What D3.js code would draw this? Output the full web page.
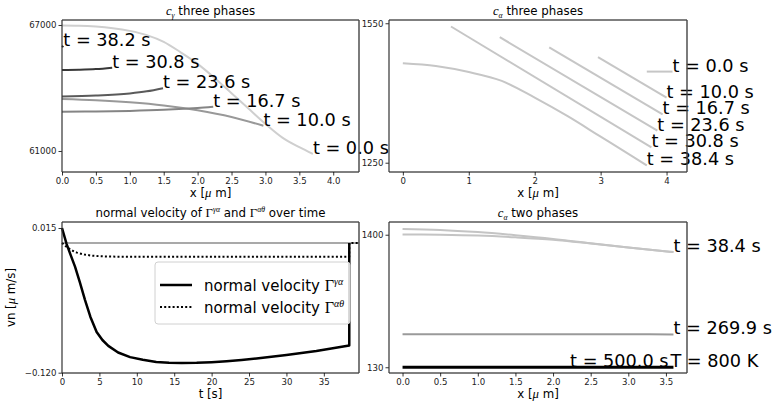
<!DOCTYPE html>
<html><head><meta charset="utf-8">
<script src="https://cdn.jsdelivr.net/npm/d3@7"></script>
<style>body{margin:0;background:#fff}svg{font-family:"DejaVu Sans",sans-serif;display:block}</style>
</head><body><svg id="c" width="775" height="401"></svg>
<script>
// ---------- DATA ----------
// Panel 1: c_gamma three phases
const cgTimes = ["0.0", "10.0", "16.7", "23.6", "30.8", "38.2"];
const cgX = [
  [0, 0.25, 0.5, 0.75, 1.0, 1.25, 1.5, 1.75, 2.0, 2.25, 2.5, 2.75, 3.0, 3.25, 3.5, 3.7],
  [0, 0.5, 1.0, 1.5, 2.0, 2.5, 2.97],
  [0, 0.5, 1.0, 1.5, 1.8, 2.0, 2.23],
  [0, 0.5, 1.0, 1.25, 1.49],
  [0, 0.25, 0.5, 0.74],
  [0, 0.02]
];
const cgC = [
  [66980, 66970, 66930, 66850, 66720, 66520, 66200, 65700, 65150, 64480, 63750, 63020, 62290, 61640, 61180, 60860],
  [63480, 63420, 63320, 63170, 62940, 62620, 62200],
  [62870, 62885, 62910, 62960, 63010, 63050, 63110],
  [63600, 63640, 63740, 63840, 63990],
  [64860, 64870, 64900, 64970],
  [65950, 66000]
];
const cgXTicks = [0, 0.5, 1.0, 1.5, 2.0, 2.5, 3.0, 3.5, 4.0];
const cgYTicks = [61000, 67000];

// Panel 2: c_alpha three phases
const ca3Times = ["0.0", "10.0", "16.7", "23.6", "30.8", "38.4"];
const ca3X = [
  [3.7, 4.09],
  [2.96, 4.0],
  [2.22, 3.94],
  [1.47, 3.86],
  [0.73, 3.77],
  [0, 0.5, 1.0, 1.5, 2.0, 2.5, 3.0, 3.5, 3.7]
];
const ca3C = [
  [1446, 1446],
  [1477, 1390],
  [1498, 1354],
  [1520, 1319],
  [1543, 1283],
  [1464, 1458, 1445, 1426, 1390, 1350, 1306, 1262, 1244]
];
const ca3XTicks = [0, 1, 2, 3, 4];
const ca3YTicks = [1250, 1550];

// Panel 3: normal velocity over time
const vnGaT = [0, 0.62, 1.2, 1.74, 2.4, 3.07, 3.8, 4.63, 5.4, 6.19, 7.5, 9.1, 10.8, 12.6, 14.3, 16, 18, 20, 22, 24, 26, 28, 30, 32, 34, 36, 38.4, 38.4];
const vnGaV = [0.015, 0, -0.011, -0.021, -0.036, -0.052, -0.068, -0.082, -0.0895, -0.095, -0.1012, -0.1055, -0.108, -0.110, -0.1107, -0.111,
  -0.1108, -0.1102, -0.1093, -0.1082, -0.1068, -0.1052, -0.1035, -0.1017, -0.0998, -0.0975, -0.0946, 0.001];
const vnAtT = [0, 0.5, 1, 1.5, 2, 3, 4, 5, 6, 8, 10, 38.4, 38.4, 39.7];
const vnAtV = [0.001, -0.002, -0.0045, -0.0065, -0.008, -0.0098, -0.0108, -0.0113, -0.0116, -0.0118, -0.0119, -0.0119, 0.001, 0.001];
const vnRef = 0.001;
const vnXTicks = [0, 5, 10, 15, 20, 25, 30, 35];
const vnYTicks = [-0.120, 0.015];

// Panel 4: c_alpha two phases
const ca2Times = ["38.4", "38.4", "269.9", "500.0"];
const ca2X = [
  [0, 0.5, 1, 1.5, 2, 2.5, 3, 3.6],
  [0, 0.5, 1, 1.5, 2, 2.5, 3, 3.6],
  [0, 3.28, 3.6],
  [0, 3.6]
];
const ca2C = [
  [1455, 1446, 1425, 1395, 1360, 1318, 1278, 1234],
  [1403, 1400, 1392, 1375, 1352, 1316, 1277, 1234],
  [447, 447, 444],
  [130, 130]
];
const ca2TempLabel = "T = 800 K";
const ca2TempAt = [3.56, 130];
const ca2EndAt = [3.535, 130];
const ca2XTicks = [0, 0.5, 1.0, 1.5, 2.0, 2.5, 3.0, 3.5];
const ca2YTicks = [130, 1400];

// ---------- STYLES ----------
const cgColors = ["#cfcfcf", "#999999", "#858585", "#5a5a5a", "#383838", "#111111"];
const ca2Colors = ["#c4c4c4", "#c4c4c4", "#9a9a9a", "#000000"];
const LABEL_FS = 17.7, TICK_FS = 8.6, AX_FS = 11.8, LEG_FS = 15;
const MATH = "Liberation Serif";

const svg = d3.select("#c");

function rich(sel, parts, size) {
  let shift = 0;
  parts.forEach(([txt, kind]) => {
    const ts = sel.append("tspan").text(txt);
    let dy = 0;
    if (kind === "sub" || kind === "sup") {
      const target = kind === "sub" ? size * 0.22 : -size * 0.4;
      dy = target - shift; shift = target;
      ts.attr("font-size", size * 0.66).attr("font-family", MATH).attr("font-style", "italic");
    } else {
      dy = -shift; shift = 0;
      if (kind === "i") ts.attr("font-family", MATH).attr("font-style", "italic").attr("font-size", size * 1.08);
      if (kind === "m") ts.attr("font-family", MATH).attr("font-size", size * 1.08);
    }
    if (dy) ts.attr("dy", dy);
  });
}

function panel(cfg) {
  const g = svg.append("g");
  const x = d3.scaleLinear().domain(cfg.xd).range([cfg.l, cfg.r]);
  const y = d3.scaleLinear().domain(cfg.yd).range([cfg.b, cfg.t]);
  const ax = g.append("g").attr("transform", `translate(0,${cfg.b})`)
    .call(d3.axisBottom(x).tickValues(cfg.xt).tickFormat(cfg.xf).tickSize(3.5).tickPadding(2.5));
  const ay = g.append("g").attr("transform", `translate(${cfg.l},0)`)
    .call(d3.axisLeft(y).tickValues(cfg.yt).tickFormat(cfg.yf).tickSize(3.5).tickPadding(2));
  [ax, ay].forEach(a => {
    a.select(".domain").remove();
    a.selectAll("text").attr("font-size", TICK_FS).attr("font-family", "DejaVu Sans").attr("fill", "#222");
    a.selectAll("line").attr("stroke", "#000").attr("stroke-width", 0.8);
  });
  const tt = g.append("text").attr("x", (cfg.l + cfg.r) / 2).attr("y", cfg.t - 5)
    .attr("text-anchor", "middle").attr("font-size", cfg.titleFs || AX_FS);
  rich(tt, cfg.title, cfg.titleFs || AX_FS);
  const xl = g.append("text").attr("x", (cfg.l + cfg.r) / 2).attr("y", cfg.b + 25)
    .attr("text-anchor", "middle").attr("font-size", AX_FS);
  rich(xl, cfg.xlabel, AX_FS);
  return {g, x, y};
}

function spines(p, cfg) {
  const g = svg.append("g");
  g.append("line").attr("x1", cfg.l).attr("x2", cfg.r).attr("y1", cfg.t).attr("y2", cfg.t).attr("stroke", "#000").attr("stroke-width", 1);
  g.append("line").attr("x1", cfg.l).attr("x2", cfg.r).attr("y1", cfg.b).attr("y2", cfg.b).attr("stroke", "#000").attr("stroke-width", 1);
  g.append("line").attr("x1", cfg.l).attr("x2", cfg.l).attr("y1", cfg.t).attr("y2", cfg.b).attr("stroke", "#333").attr("stroke-width", 1.2);
  g.append("line").attr("x1", cfg.r).attr("x2", cfg.r).attr("y1", cfg.t).attr("y2", cfg.b).attr("stroke", "#444").attr("stroke-width", 1.4);
}

function series(p, xs, ys, color, width, curve, dash) {
  const pts = xs.map((v, i) => [v, ys[i]]);
  const line = d3.line().x(d => p.x(d[0])).y(d => p.y(d[1])).curve(curve || d3.curveMonotoneX);
  const path = p.g.append("path").datum(pts).attr("d", line).attr("fill", "none")
    .attr("stroke", color).attr("stroke-width", width).attr("stroke-linejoin", "round");
  if (dash) path.attr("stroke-dasharray", dash);
  return pts[pts.length - 1];
}

function label(p, pt, txt, anchor) {
  p.g.append("text").attr("x", p.x(pt[0])).attr("y", p.y(pt[1]))
    .attr("font-size", LABEL_FS).attr("text-anchor", anchor || "start").attr("fill", "#000").text(txt);
}

const fmt1 = d3.format(".1f");

// ---------- Panel 1 ----------
const c1 = {l: 62, r: 359, t: 20, b: 172, xd: [0, 4.38], yd: [60000, 67238], xt: cgXTicks, yt: cgYTicks,
  xf: fmt1, yf: d3.format("d"), title: [["c", "i"], ["γ", "sub"], [" three phases", "n"]], xlabel: [["x [", "n"], ["μ", "i"], [" m]", "n"]]};
const p1 = panel(c1);
cgX.forEach((xs, i) => {
  const end = series(p1, xs, cgC[i], cgColors[i], 2);
  label(p1, end, `t = ${cgTimes[i]} s`);
});
spines(p1, c1);

// ---------- Panel 2 ----------
const c2 = {l: 389, r: 687, t: 20, b: 172, xd: [-0.21, 4.31], yd: [1230, 1557], xt: ca3XTicks, yt: ca3YTicks,
  xf: d3.format("d"), yf: d3.format("d"), title: [["c", "i"], ["α", "sub"], [" three phases", "n"]], xlabel: [["x [", "n"], ["μ", "i"], [" m]", "n"]]};
const p2 = panel(c2);
ca3X.forEach((xs, i) => {
  const end = series(p2, xs, ca3C[i], "#c6c6c6", 2);
  label(p2, end, `t = ${ca3Times[i]} s`);
});
spines(p2, c2);

// ---------- Panel 3 ----------
const c3 = {l: 62, r: 359, t: 222, b: 373, xd: [0, 39.7], yd: [-0.1203, 0.0206], xt: vnXTicks, yt: vnYTicks,
  xf: d3.format("d"), yf: d => d3.format(".3f")(d).replace("-", "\u2212"),
  title: [["normal velocity of ", "n"], ["Γ", "m"], ["γα", "sup"], [" and ", "n"], ["Γ", "m"], ["αθ", "sup"], [" over time", "n"]],
  xlabel: [["t [s]", "n"]]};
const p3 = panel(c3);
p3.g.append("line").attr("x1", c3.l).attr("x2", c3.r).attr("y1", p3.y(vnRef)).attr("y2", p3.y(vnRef))
  .attr("stroke", "#555").attr("stroke-width", 1.2);
series(p3, vnAtT, vnAtV, "#000", 2, d3.curveLinear, "2,2.2");
series(p3, vnGaT, vnGaV, "#000", 2.5, d3.curveLinear);
const yl = p3.g.append("text").attr("transform", `translate(15,${(c3.t + c3.b) / 2}) rotate(-90)`)
  .attr("text-anchor", "middle").attr("font-size", AX_FS);
rich(yl, [["vn [", "n"], ["μ", "i"], [" m/s]", "n"]], AX_FS);
const lg = p3.g.append("g");
lg.append("rect").attr("x", 155).attr("y", 262).attr("width", 195).attr("height", 62).attr("rx", 3)
  .attr("fill", "#fff").attr("fill-opacity", 0.85).attr("stroke", "#d0d0d0").attr("stroke-width", 1);
const legItems = [
  {parts: [["normal velocity ", "n"], ["Γ", "m"], ["γα", "sup"]], dash: null, w: 2.5},
  {parts: [["normal velocity ", "n"], ["Γ", "m"], ["αθ", "sup"]], dash: "2,2.2", w: 2}
];
legItems.forEach((it, i) => {
  const yy = 285 + i * 22;
  const ln = lg.append("line").attr("x1", 160).attr("x2", 192).attr("y1", yy).attr("y2", yy)
    .attr("stroke", "#000").attr("stroke-width", it.w);
  if (it.dash) ln.attr("stroke-dasharray", it.dash);
  const t = lg.append("text").attr("x", 204).attr("y", yy + 5.5).attr("font-size", LEG_FS);
  rich(t, it.parts, LEG_FS);
});
spines(p3, c3);

// ---------- Panel 4 ----------
const c4 = {l: 389, r: 687, t: 222, b: 373, xd: [-0.18, 3.78], yd: [75, 1522], xt: ca2XTicks, yt: ca2YTicks,
  xf: fmt1, yf: d3.format("d"), title: [["c", "i"], ["α", "sub"], [" two phases", "n"]], xlabel: [["x [", "n"], ["μ", "i"], [" m]", "n"]]};
const p4 = panel(c4);
ca2X.forEach((xs, i) => {
  const end = series(p4, xs, ca2C[i], ca2Colors[i], i === 3 ? 3 : 2, i >= 2 ? d3.curveLinear : null);
  if (i === 0 || i === 2) label(p4, end, `t = ${ca2Times[i]} s`);
});
label(p4, ca2EndAt, `t = ${ca2Times[3]} s`, "end");
label(p4, ca2TempAt, ca2TempLabel);
spines(p4, c4);
</script>
</body></html>
